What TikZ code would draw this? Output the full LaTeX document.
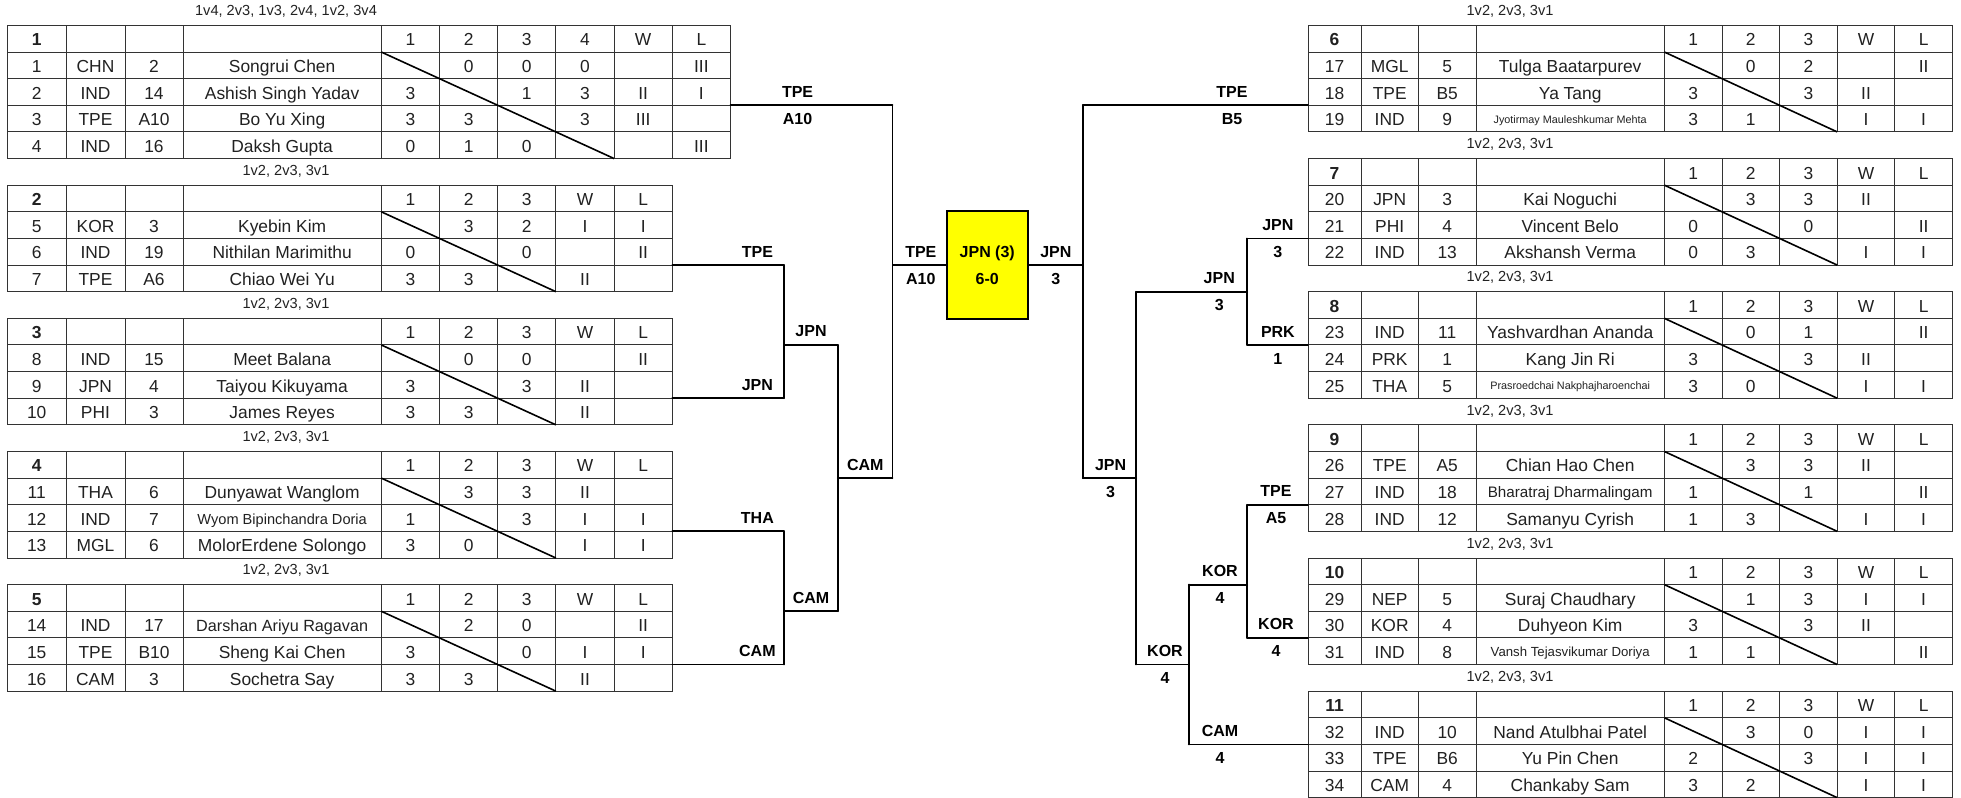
\documentclass[tikz,border=0pt]{standalone}
\usepackage{fontspec}
\setmainfont{Liberation Sans}
\usetikzlibrary{calc}
\usepackage{tkz-euclide}
\definecolor{BoxClr}{rgb}{1,1,0}
\definecolor{TxtClr}{rgb}{0.13,0.13,0.13}

\newcommand\SetCols[6]{\def\tbA{#1}\def\tbB{#2}\def\tbC{#3}\def\tbD{#4}\def\tbE{#5}\def\tbW{#6}}
\newcommand\SmallName[3]{\raisebox{#2}{\fontsize{#1}{#1}\selectfont #3}}
\newcommand\ScoreTable[4]{%
  \pgfmathsetmacro\yT{25.4+26.63*#1}
  \pgfmathsetmacro\yB{25.4+26.63*(#1+#2+1)}
  \pgfmathsetmacro\xR{\tbE+\tbW*(#2+2)}
  \pgfmathtruncatemacro\nn{#2+1}
  \draw[grid] (\tbA,\yT) rectangle (\xR,\yB);
  \foreach \k in {1,...,#2} \draw[grid] (\tbA,{\yT+26.63*\k}) -- (\xR,{\yT+26.63*\k});
  \foreach \xx in {\tbB,\tbC,\tbD} \draw[grid] (\xx,\yT) -- (\xx,\yB);
  \foreach \k in {0,...,\nn} \draw[grid] ({\tbE+\tbW*\k},\yT) -- ({\tbE+\tbW*\k},\yB);
  \draw[diag] (\tbE,{\yT+26.63}) -- ({\tbE+\tbW*#2},\yB);
  \node[grp] (g#3) at ({(\tbA+\tbB)/2},{\yT+14.3}) {#3};
  \ifnum#2=4 \def\hd{1,2,3,4,W,L}\else\def\hd{1,2,3,W,L}\fi
  \foreach \h [count=\j from 0] in \hd
    \node[cell] (g#3-0-\j) at ({\tbE+\tbW*(\j+0.5)},{\yT+14.3}) {\h};
  \foreach \ix/\cty/\sd/\nm/\sc [count=\rw] in {#4} {
    \pgfmathsetmacro\yy{\yT+26.63*\rw+14.3}
    \node[cell] (g#3-\rw-a) at ({(\tbA+\tbB)/2},\yy) {\ix};
    \node[cell] (g#3-\rw-b) at ({(\tbB+\tbC)/2},\yy) {\cty};
    \node[cell] (g#3-\rw-c) at ({(\tbC+\tbD)/2},\yy) {\sd};
    \node[cell] (g#3-\rw-n) at ({(\tbD+\tbE)/2},\yy) {\nm};
    \foreach \v [count=\j from 0] in \sc
      \node[cell] (g#3-\rw-\j) at ({\tbE+\tbW*(\j+0.5)},\yy) {\v};
  }
}

\begin{document}
\begin{tikzpicture}[x=0.5pt,y=-0.5pt,
  grid/.style={draw=black!80,line width=0.5pt},
  diag/.style={draw=black,line width=0.8pt},
  cell/.style={font=\fontsize{8.7}{10}\selectfont,text=TxtClr,inner sep=0pt,text height=6.2pt,text depth=0pt},
  grp/.style={cell,font=\bfseries\fontsize{8.7}{10}\selectfont},
  captxt/.style={font=\fontsize{7.3}{9}\selectfont,text=TxtClr,inner sep=0pt},
  lbl/.style={font=\bfseries\fontsize{8}{10}\selectfont,inner sep=0pt}]
\useasboundingbox (0,0) rectangle (1961,798);
\tkzSetUpLine[line width=0.9pt,color=black]

\SetCols{7.5}{66}{125}{183}{381.3}{58.2}
\ScoreTable{0}{4}{1}{1/CHN/2/Songrui Chen/{,0,0,0,,III}, 2/IND/14/Ashish Singh Yadav/{3,,1,3,II,I}, 3/TPE/A10/Bo Yu Xing/{3,3,,3,III,}, 4/IND/16/Daksh Gupta/{0,1,0,,,III}}
\ScoreTable{6}{3}{2}{5/KOR/3/Kyebin Kim/{,3,2,I,I}, 6/IND/19/Nithilan Marimithu/{0,,0,,II}, 7/TPE/A6/Chiao Wei Yu/{3,3,,II,}}
\ScoreTable{11}{3}{3}{8/IND/15/Meet Balana/{,0,0,,II}, 9/JPN/4/Taiyou Kikuyama/{3,,3,II,}, 10/PHI/3/James Reyes/{3,3,,II,}}
\ScoreTable{16}{3}{4}{11/THA/6/Dunyawat Wanglom/{,3,3,II,}, 12/IND/7/{\SmallName{7.3}{0.5pt}{Wyom Bipinchandra Doria}}/{1,,3,I,I}, 13/MGL/6/MolorErdene Solongo/{3,0,,I,I}}
\ScoreTable{21}{3}{5}{14/IND/17/{\SmallName{8.1}{0.2pt}{Darshan Ariyu Ragavan}}/{,2,0,,II}, 15/TPE/B10/Sheng Kai Chen/{3,,0,I,I}, 16/CAM/3/Sochetra Say/{3,3,,II,}}

\SetCols{1308}{1361}{1418.4}{1476}{1664.4}{57.6}
\ScoreTable{0}{3}{6}{17/MGL/5/Tulga Baatarpurev/{,0,2,,II}, 18/TPE/B5/Ya Tang/{3,,3,II,}, 19/IND/9/{\SmallName{5.4}{1.2pt}{Jyotirmay Mauleshkumar Mehta}}/{3,1,,I,I}}
\ScoreTable{5}{3}{7}{20/JPN/3/Kai Noguchi/{,3,3,II,}, 21/PHI/4/Vincent Belo/{0,,0,,II}, 22/IND/13/Akshansh Verma/{0,3,,I,I}}
\ScoreTable{10}{3}{8}{23/IND/11/Yashvardhan Ananda/{,0,1,,II}, 24/PRK/1/Kang Jin Ri/{3,,3,II,}, 25/THA/5/{\SmallName{5.4}{1.2pt}{Prasroedchai Nakphajharoenchai}}/{3,0,,I,I}}
\ScoreTable{15}{3}{9}{26/TPE/A5/Chian Hao Chen/{,3,3,II,}, 27/IND/18/{\SmallName{7.6}{0.4pt}{Bharatraj Dharmalingam}}/{1,,1,,II}, 28/IND/12/Samanyu Cyrish/{1,3,,I,I}}
\ScoreTable{20}{3}{10}{29/NEP/5/Suraj Chaudhary/{,1,3,I,I}, 30/KOR/4/Duhyeon Kim/{3,,3,II,}, 31/IND/8/{\SmallName{6.6}{0.75pt}{Vansh Tejasvikumar Doriya}}/{1,1,,,II}}
\ScoreTable{25}{3}{11}{32/IND/10/Nand Atulbhai Patel/{,3,0,I,I}, 33/TPE/B6/Yu Pin Chen/{2,,3,I,I}, 34/CAM/4/Chankaby Sam/{3,2,,I,I}}

\node[captxt] (c1) at (286,11.5) {1v4, 2v3, 1v3, 2v4, 1v2, 3v4};
\foreach \k [count=\q from 2] in {5,10,15,20} \node[captxt] (c\q) at (286,{38.1+26.63*\k}) {1v2, 2v3, 3v1};
\foreach \k [count=\q from 6] in {-1,4,9,14,19,24} \node[captxt] (c\q) at (1510,{38.1+26.63*\k}) {1v2, 2v3, 3v1};

\tkzDefPoints{730.6/105.29/A1,892.5/105.29/A2,672.4/265.07/A3,784/265.07/A4,672.4/398.22/A5,784/398.22/A6,672.4/531.37/A7,784/531.37/A8,672.4/664.52/A9,784/664.52/A10}
\tkzDefPoints{784/344.96/B1,837.8/344.96/B2,784/611.26/B3,837.8/611.26/B4,837.8/478.11/B5,892.5/478.11/B6,892.5/265.07/C1}
\tkzDefPoints{1308/105.29/D1,1082.7/105.29/D2,1308/238.44/D3,1247.3/238.44/D4,1308/344.96/D5,1247.3/344.96/D6,1308/504.74/D7,1247.3/504.74/D8,1308/637.89/D9,1247.3/637.89/D10,1308/744.41/D11,1188.8/744.41/D12}
\tkzDefPoints{1247.3/291.7/E1,1136.3/291.7/E2,1247.3/584.63/E3,1188.8/584.63/E4,1188.8/664.52/E5,1136.3/664.52/E6,1136.3/478.11/E7,1082.7/478.11/E8,1082.7/265.07/F1}

\node[draw,line width=1pt,fill=BoxClr,minimum width=40.75pt,minimum height=54pt,align=center,font=\bfseries\fontsize{8}{13.5}\selectfont,inner sep=0pt] (final) at (987.25,265.07) {JPN (3)\\6-0};

\begin{scope}[line cap=rect]
\tkzDrawSegments(A1,A2 A3,A4 A5,A6 A7,A8 A9,A10 A4,A6 A8,A10 B1,B2 B3,B4 B2,B4 B5,B6 A2,B6)
\tkzDrawSegments(D1,D2 D3,D4 D5,D6 D7,D8 D9,D10 D11,D12 D4,D6 D8,D10 E1,E2 E3,E4 E4,D12 E5,E6 E2,E6 E7,E8 D2,E8)
\draw[line width=0.9pt] (C1) -- (final.west);
\draw[line width=0.9pt] (F1) -- (final.east);
\end{scope}

\foreach \x/\y/\t [count=\q] in {797.6/91.7/TPE, 797.6/119/A10, 757.4/251.5/TPE, 757.4/384.7/JPN, 757.4/517.9/THA, 757.4/651/CAM, 811/331.5/JPN, 811/597.8/CAM, 865.3/464.6/CAM, 920.8/251.6/TPE, 920.8/278.6/A10, 1055.9/251.6/JPN, 1055.9/278.6/3, 1232/91.7/TPE, 1232/118.8/B5, 1110.6/464.6/JPN, 1110.6/491.6/3, 1219.3/278.2/JPN, 1219.3/305.2/3, 1277.9/225/JPN, 1277.9/252/3, 1277.9/331.5/PRK, 1277.9/358.5/1, 1276/491.2/TPE, 1276/518.2/A5, 1276/624.4/KOR, 1276/651.4/4, 1220/571.1/KOR, 1220/598.1/4, 1220/730.9/CAM, 1220/757.9/4, 1165/651/KOR, 1165/678/4}
  \node[lbl] (w\q) at (\x,\y) {\t};

\end{tikzpicture}
\end{document}
